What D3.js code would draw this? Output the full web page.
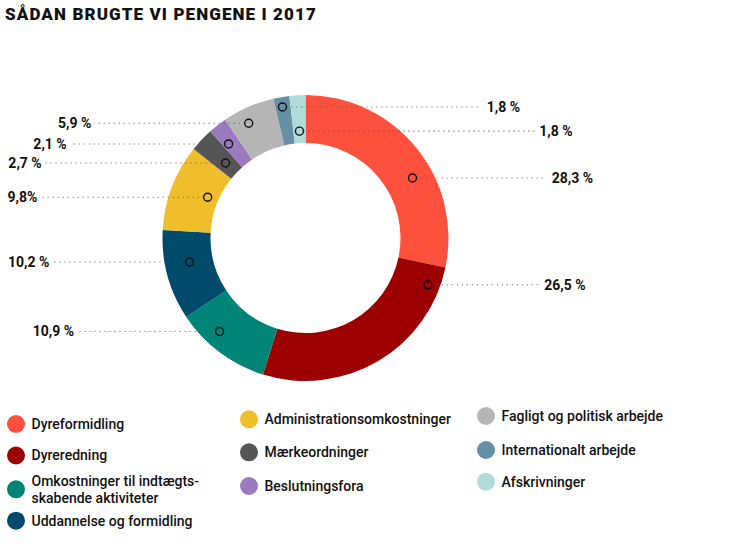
<!DOCTYPE html>
<html><head><meta charset="utf-8">
<script src="https://cdn.jsdelivr.net/npm/d3@7"></script>
<style>
body{margin:0;background:#fff;}
svg{display:block;font-family:Roboto,"DejaVu Sans",sans-serif;}
</style></head>
<body><svg id="c" width="750" height="544"></svg>
<script>
const title = "SÅDAN BRUGTE VI PENGENE I 2017";
const categories = ["Dyreformidling","Dyreredning","Omkostninger til indtægts-|skabende aktiviteter","Uddannelse og formidling","Administrationsomkostninger","Mærkeordninger","Beslutningsfora","Fagligt og politisk arbejde","Internationalt arbejde","Afskrivninger"];
const values = [28.3,26.5,10.9,10.2,9.8,2.7,2.1,5.9,1.8,1.8];
const valueLabels = ["28,3 %","26,5 %","10,9 %","10,2 %","9,8%","2,7 %","2,1 %","5,9 %","1,8 %","1,8 %"];
const colors = ["#fe513d","#9d0000","#008478","#004a6b","#f0be2a","#555555","#9b7bbf","#b5b5b5","#6590a6","#b1dbd8"];
// annotation layout: marker position within segment (fraction of angle, radius) and label x
const markerT = [0.596,0.095,0.645,0.594,0.55,0.48,0.33,0.37,0.46,0.5];
const markerR = [122.7,131,127,118.5,106,109.6,121.5,128,133,107];
const labelX = [551.7,544.3,74,49.3,37.3,41.7,66.7,91.3,486.7,539.3];
const legendCol = [0,0,0,0,1,1,1,2,2,2];
const legendRowY = [424,455.5,489.3,520.7,419.3,452.3,486,416,450,481.7];

const svg = d3.select("#c");
const cx = 305.5, cy = 238, r0 = 95, r1 = 143;

svg.append("text").attr("x",5).attr("y",19.5).text(title)
  .attr("font-size",17).attr("font-weight",900).attr("letter-spacing",1.1).attr("fill","#111");

const data = categories.map((c,i)=>({c, v:values[i], col:colors[i], lab:valueLabels[i], t:markerT[i], mr:markerR[i], lx:labelX[i]}));
const pie = d3.pie().sort(null).value(d=>d.v);
const arcs = pie(data);
const arc = d3.arc().innerRadius(r0).outerRadius(r1);
const g = svg.append("g").attr("transform",`translate(${cx},${cy})`);
g.selectAll("path").data(arcs).join("path").attr("d",arc).attr("fill",d=>d.data.col);

arcs.forEach(a=>{
  const ang = a.startAngle + a.data.t*(a.endAngle-a.startAngle);
  const mx = cx + a.data.mr*Math.sin(ang);
  const my = cy - a.data.mr*Math.cos(ang);
  const right = a.data.lx > cx;
  const x1 = right ? mx+4 : mx-4;
  const x2 = right ? a.data.lx-5 : a.data.lx+3;
  svg.append("line").attr("x1",x1).attr("x2",x2).attr("y1",my).attr("y2",my)
    .attr("stroke","#555").attr("stroke-width",1.1).attr("stroke-dasharray","1,4");
  svg.append("circle").attr("cx",mx).attr("cy",my).attr("r",4)
    .attr("fill","none").attr("stroke","#111").attr("stroke-width",1.4);
  svg.append("text").attr("x",a.data.lx).attr("y",my).attr("dy","0.35em")
    .attr("text-anchor",right?"start":"end").attr("font-size",14).attr("font-weight",700)
    .attr("fill","#111").text(a.data.lab);
});

const colX = [16,249,486];
const lg = svg.append("g");
data.forEach((d,i)=>{
  const x = colX[legendCol[i]], y = legendRowY[i];
  lg.append("circle").attr("cx",x).attr("cy",y).attr("r",9).attr("fill",d.col);
  const lines = d.c.split("|");
  const t = lg.append("text").attr("x",x+15.5).attr("font-size",14).attr("font-weight",500).attr("fill","#111");
  lines.forEach((ln,j)=>{
    const off = (j-(lines.length-1)/2)*16.6;
    t.append("tspan").attr("x",x+15.5).attr("y",y+off).attr("dy","0.35em").text(ln);
  });
});
</script></body></html>
